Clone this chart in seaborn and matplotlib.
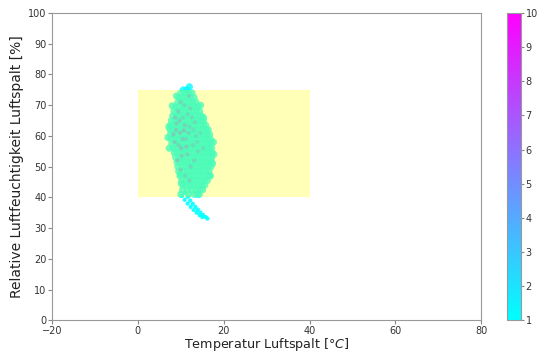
import numpy as np
import pandas as pd
import matplotlib
matplotlib.use("Agg")
import matplotlib.pyplot as plt
import seaborn as sns
from matplotlib.patches import Rectangle

# humidity rows of the measurement cloud and the temperatures found on each row
rh_levels = [75, 74, 72.5, 71, 69.5, 68, 66.5, 65, 63.5, 62, 60.5, 59, 57.5, 56,
             54.5, 53, 51.5, 50, 48.5, 47, 45.5, 44, 42.5, 41]
temp_rows = [
    [10.6, 11.4],
    [10.0, 10.9, 11.8, 12.6],
    [9.6, 10.5, 11.3, 12.2, 13.1],
    [9.3, 10.2, 11.0, 11.9, 12.7, 13.5],
    [8.8, 9.7, 10.6, 11.4, 12.3, 13.2, 14.0],
    [8.4, 9.3, 10.1, 11.0, 11.8, 12.7, 13.6, 14.4],
    [8.1, 9.0, 9.8, 10.7, 11.5, 12.4, 13.2, 14.1, 14.8],
    [7.8, 8.7, 9.5, 10.4, 11.2, 12.1, 12.9, 13.8, 14.6, 15.3],
    [7.6, 8.4, 9.3, 10.1, 11.0, 11.8, 12.7, 13.5, 14.4, 15.2, 15.8],
    [7.5, 8.3, 9.2, 10.0, 10.9, 11.7, 12.6, 13.4, 14.3, 15.1, 15.9, 16.4],
    [7.6, 8.4, 9.3, 10.1, 11.0, 11.8, 12.7, 13.5, 14.4, 15.2, 16.0, 16.7],
    [7.7, 8.6, 9.4, 10.3, 11.1, 12.0, 12.8, 13.7, 14.5, 15.4, 16.2, 16.9],
    [7.9, 8.8, 9.6, 10.5, 11.3, 12.2, 13.0, 13.9, 14.7, 15.6, 16.4, 17.1],
    [8.2, 9.0, 9.9, 10.7, 11.6, 12.4, 13.3, 14.1, 15.0, 15.8, 16.6, 17.2],
    [8.5, 9.3, 10.2, 11.0, 11.9, 12.7, 13.6, 14.4, 15.3, 16.1, 16.9, 17.3],
    [8.8, 9.7, 10.5, 11.4, 12.2, 13.1, 13.9, 14.8, 15.6, 16.5, 17.2],
    [9.1, 10.0, 10.8, 11.7, 12.5, 13.4, 14.2, 15.1, 15.9, 16.7, 17.2],
    [9.3, 10.3, 11.2, 12.0, 12.9, 13.7, 14.6, 15.4, 16.2, 17.0],
    [9.5, 10.7, 11.5, 12.4, 13.2, 14.1, 14.9, 15.8, 16.6],
    [9.8, 11.0, 11.9, 12.7, 13.6, 14.4, 15.3, 16.1, 16.7],
    [10.2, 11.3, 12.1, 13.0, 13.8, 14.7, 15.5, 16.2],
    [10.5, 11.5, 12.4, 13.2, 14.1, 14.9, 15.6],
    [10.4, 11.6, 12.6, 13.5, 14.4, 15.1],
    [10.0, 11.8, 13.2, 14.3],
]
cloud_value = 1.2

# loose points on the ragged edge of the cloud
edge_temp = [7.2, 7.0, 7.3, 8.0, 9.0, 17.6, 17.7, 17.4, 15.3, 14.6, 12.0, 9.9, 10.1, 13.9, 16.9]
edge_rh = [63.0, 59.5, 56.0, 69.8, 73.0, 58.0, 54.0, 51.0, 66.0, 70.0, 76.0, 47.5, 44.5, 41.0, 47.0]

# the two thin strands below the comfort box
tail_temp = [11.0, 11.6, 12.2, 12.8, 13.4, 14.0, 14.6, 15.2, 15.8, 16.2,
             10.3, 10.9, 11.6, 12.3, 13.0, 13.7, 14.4, 15.0]
tail_rh = [41.5, 40.2, 39.0, 37.9, 36.9, 36.0, 35.1, 34.3, 33.6, 33.1,
           40.5, 39.2, 38.0, 36.9, 35.9, 35.0, 34.2, 33.6]
tail_value = 1.0

# darker points inside the cloud
dark_temp = [9.0, 9.8, 10.5, 8.6, 11.2, 10.1, 12.0, 9.4, 11.5, 12.8, 10.8, 13.5,
             12.3, 9.2, 14.0, 11.0, 8.9, 10.4, 12.6, 9.7, 11.8, 13.1,
             8.3, 10.9, 9.5, 11.6, 12.9, 10.2, 13.8, 8.7, 11.3, 12.2,
             9.9, 10.7, 14.6, 15.2, 13.3, 12.0, 10.0, 11.9]
dark_rh = [64, 61, 66, 58, 59, 56, 63, 68, 54, 57, 70, 60,
           50, 52, 55, 47, 62, 59, 66, 65, 61, 52,
           60.5, 63.5, 57, 67, 62, 53.5, 58, 66, 56.5, 69,
           71, 61.8, 61, 56, 64.5, 45.5, 49, 73]
dark_value = [3.5, 4.0, 3.0, 3.8, 3.2, 4.2, 3.0, 3.5, 3.6, 3.1, 3.0, 2.8,
              3.3, 3.7, 2.9, 3.0, 4.0, 3.6, 2.9, 3.9, 3.4, 3.1,
              4.1, 3.7, 3.3, 3.0, 2.8, 3.5, 2.7, 3.8, 3.9, 3.2,
              3.4, 4.3, 2.6, 2.7, 3.0, 3.1, 3.5, 3.0]

cloud = pd.DataFrame({
    "temp": [t for row in temp_rows for t in row] + edge_temp,
    "rh": [rh for rh, row in zip(rh_levels, temp_rows) for _ in row] + edge_rh,
})
cloud["value"] = cloud_value
tail = pd.DataFrame({"temp": tail_temp, "rh": tail_rh, "value": tail_value})
dark = pd.DataFrame({"temp": dark_temp, "rh": dark_rh, "value": dark_value})

sns.set_style("ticks")
plt.rcParams["font.family"] = ["DejaVu Sans"]

fig = plt.figure(figsize=(5.37, 3.52), dpi=100)
ax = fig.add_axes([0.097, 0.09, 0.799, 0.873])
cax = fig.add_axes([0.945, 0.09, 0.026, 0.873])

norm = plt.Normalize(1, 10)
cmap = plt.get_cmap("cool")
kw = dict(x="temp", y="rh", hue="value", palette=cmap, hue_norm=norm,
          legend=False, linewidth=0, ax=ax)
sns.scatterplot(data=tail, s=9, alpha=0.9, **kw)
sns.scatterplot(data=cloud, s=26, alpha=0.8, **kw)
sns.scatterplot(data=dark, s=9, alpha=0.75, **kw)

ax.add_patch(Rectangle((0, 40), 40, 35, facecolor="yellow", edgecolor="none",
                       alpha=0.28, zorder=5))

ax.set_xlim(-20, 80)
ax.set_ylim(0, 100)
ax.set_xticks(range(-20, 81, 20))
ax.set_yticks(range(0, 101, 10))
ax.tick_params(labelsize=7, length=3, pad=1, color="#888888", labelcolor="#333333")
for sp in ax.spines.values():
    sp.set_color("#999999")
    sp.set_linewidth(0.8)
ax.set_xlabel(r"Temperatur Luftspalt [$°C$]", fontsize=9.2, color="#222222", labelpad=0)
ax.set_ylabel("Relative Luftfeuchtigkeit Luftspalt [%]", fontsize=10, color="#222222", labelpad=3)

sm = plt.cm.ScalarMappable(norm=norm, cmap=cmap)
cb = fig.colorbar(sm, cax=cax, ticks=range(1, 11))
cb.ax.tick_params(labelsize=7, length=2, pad=1, color="#888888", labelcolor="#333333")
cb.outline.set_edgecolor("#999999")

fig.savefig("out.png", dpi=100)
